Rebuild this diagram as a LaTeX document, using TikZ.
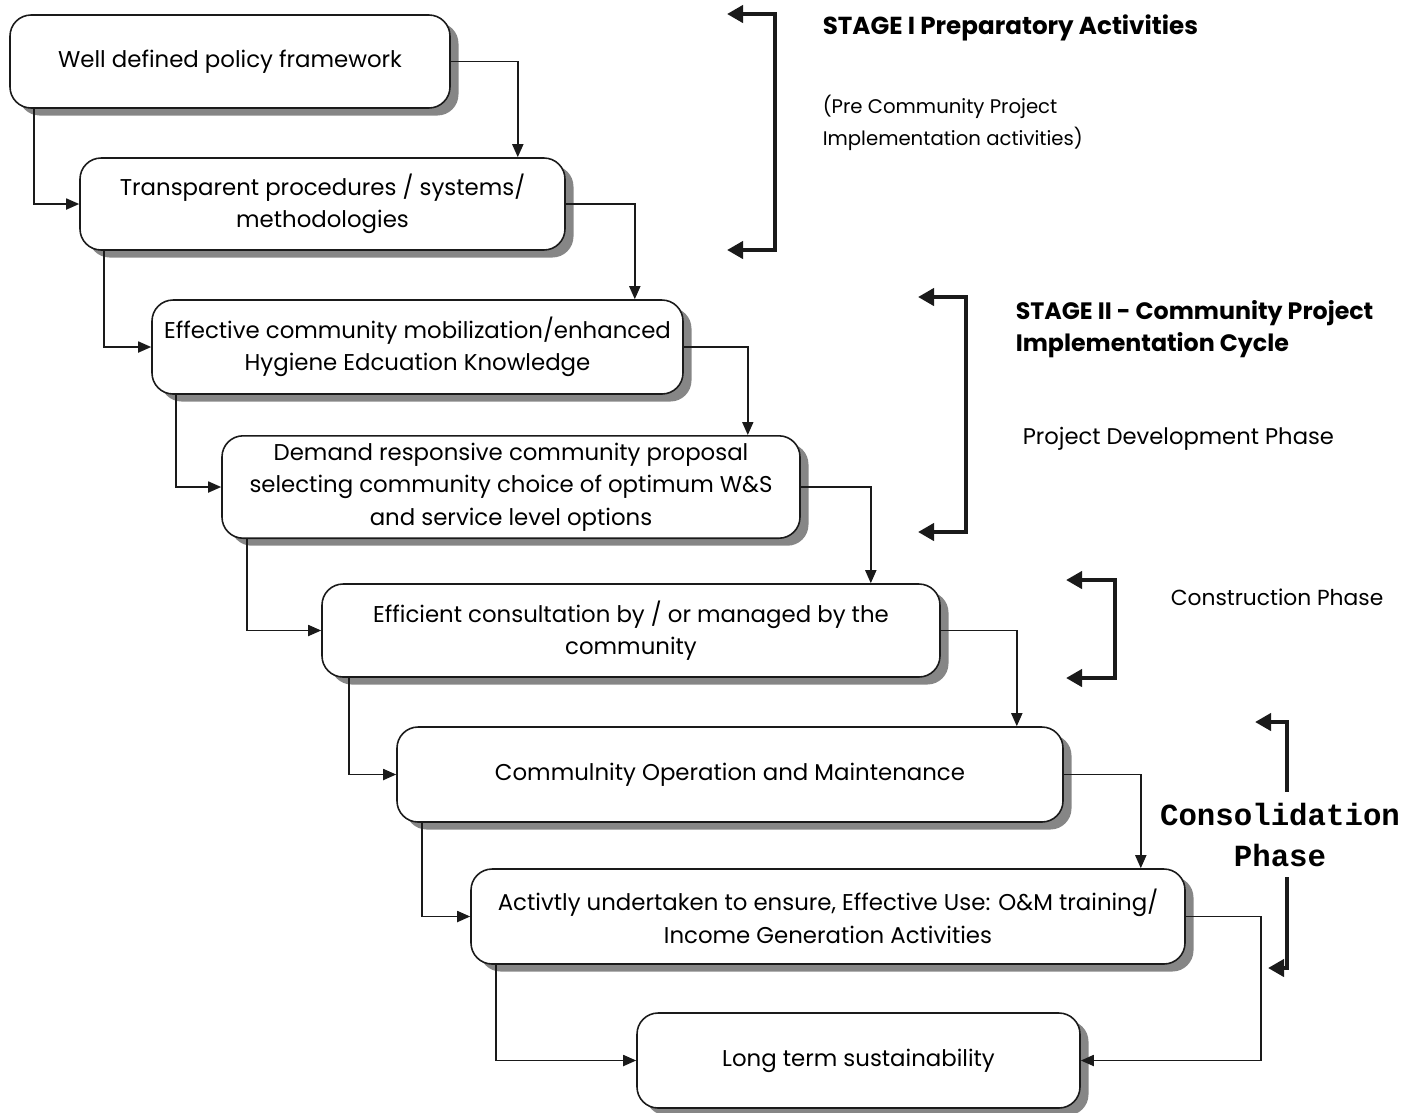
\documentclass[tikz,border=0pt]{standalone}
\usepackage{fontspec}
\setmainfont{Poppins}
\newfontfamily\consfont{Liberation Mono}
\usetikzlibrary{arrows.meta, shadows, calc}
\definecolor{cink}{HTML}{1A1A1A}
\definecolor{cshadow}{HTML}{5E5E5E}
\tikzset{
  every picture/.style={line width=0.9pt},
  box/.style={draw=cink, fill=white, rounded corners=12pt, align=center, inner sep=4pt,
    font=\fontsize{13}{18.5}\selectfont,
    drop shadow={shadow xshift=0.17cm, shadow yshift=-0.15cm, fill=cshadow, opacity=0.75}},
  arrow/.style={-{Triangle[length=2.6mm, width=2.2mm]}, draw=cink, line width=1pt},
  bracket/.style={draw=cink, line width=2.4pt, >={Triangle[length=3.2mm, width=3.4mm]}},
  title/.style={font=\fontsize{14}{18}\selectfont\bfseries, align=left, anchor=west, inner xsep=0pt},
  note/.style={font=\fontsize{12.5}{18}\selectfont, align=left, anchor=west, inner xsep=0pt},
}

\begin{document}
\begin{tikzpicture}
  \useasboundingbox (0,0) rectangle (28.32,-22.24);
  % the boxes, one step down and right each time
  \node[box, minimum width=8.8cm, minimum height=1.86cm] (policy) at (4.6,-1.23) {Well defined policy framework};
  \node[box, minimum width=9.7cm, minimum height=1.84cm] (proc) at (6.45,-4.08) {Transparent procedures / systems/\\methodologies};
  \node[box, minimum width=10.62cm, minimum height=1.88cm] (mobil) at (8.35,-6.94) {Effective community mobilization/enhanced\\Hygiene Edcuation Knowledge};
  \node[box, minimum width=11.56cm, minimum height=1.84cm] (demand) at (10.22,-9.74) {Demand responsive community proposal\\selecting community choice of optimum W\&S\\and service level options};
  \node[box, minimum width=12.36cm, minimum height=1.86cm] (consult) at (12.62,-12.61) {Efficient consultation by / or managed by the\\community};
  \node[box, minimum width=13.32cm, minimum height=1.9cm] (om) at (14.6,-15.49) {Commulnity Operation and Maintenance};
  \node[box, minimum width=14.28cm, minimum height=1.9cm] (use) at (16.56,-18.33) {Activtly undertaken to ensure, Effective Use: O\&M training/\\Income Generation Activities};
  \node[box, minimum width=8.86cm, minimum height=1.9cm] (sustain) at (17.17,-21.21) {Long term sustainability};

  % right side links
  \draw[arrow] (policy.east) -| ([xshift=-0.96cm]proc.north east);
  \draw[arrow] (proc.east) -| ([xshift=-0.98cm]mobil.north east);
  \draw[arrow] (mobil.east) -| ([xshift=-1.06cm]demand.north east);
  \draw[arrow] (demand.east) -| ([xshift=-1.4cm]consult.north east);
  \draw[arrow] (consult.east) -| ([xshift=-0.94cm]om.north east);
  \draw[arrow] (om.east) -| ([xshift=-0.9cm]use.north east);
  \draw[arrow] (use.east) -- ++(1.5,0) |- (sustain.east);
  % left side links
  \draw[arrow] ([xshift=0.5cm]policy.south west) |- (proc.west);
  \draw[arrow] ([xshift=0.5cm]proc.south west) |- (mobil.west);
  \draw[arrow] ([xshift=0.5cm]mobil.south west) |- (demand.west);
  \draw[arrow] ([xshift=0.52cm]demand.south west) |- (consult.west);
  \draw[arrow] ([xshift=0.56cm]consult.south west) |- (om.west);
  \draw[arrow] ([xshift=0.52cm]om.south west) |- (use.west);
  \draw[arrow] ([xshift=0.52cm]use.south west) |- (sustain.west);

  % stage brackets
  \coordinate (s1top) at (14.54,-0.28);
  \coordinate (s1bot) at (14.54,-5.0);
  \draw[bracket, <->] (s1top) -- ++(0.96,0) |- (s1bot);
  \coordinate (s2top) at (18.36,-5.94);
  \coordinate (s2bot) at (18.36,-10.64);
  \draw[bracket, <->] (s2top) -- ++(0.96,0) |- (s2bot);
  \coordinate (contop) at (21.32,-11.6);
  \coordinate (conbot) at (21.32,-13.56);
  \draw[bracket, <->] (contop) -- ++(0.98,0) |- (conbot);
  \coordinate (cstop) at (25.1,-14.44);
  \coordinate (csbot) at (25.36,-19.36);
  \draw[bracket, <-] (cstop) -- ++(0.64,0) -- ++(0,-1.4);
  \draw[bracket, ->] (25.74,-17.54) |- (csbot);

  \node[title] (st1) at (16.44,-0.56) {STAGE I Preparatory Activities};
  \node[note, font=\fontsize{11.2}{18}\selectfont] (pre) at (16.44,-2.46) {(Pre Community Project\\Implementation activities)};
  \node[title, font=\fontsize{13.5}{18}\selectfont\bfseries] (st2) at (20.3,-6.58) {STAGE II - Community Project\\Implementation Cycle};
  \node[note, font=\fontsize{12.9}{18}\selectfont] (dev) at (20.44,-8.78) {Project Development Phase};
  \node[note, font=\fontsize{12.4}{18}\selectfont] (cons) at (23.4,-11.94) {Construction Phase};
  \node[align=center, font=\consfont\fontsize{17.5}{23}\selectfont\bfseries] (consol) at (25.6,-16.7) {Consolidation\\Phase};
\end{tikzpicture}
\end{document}
